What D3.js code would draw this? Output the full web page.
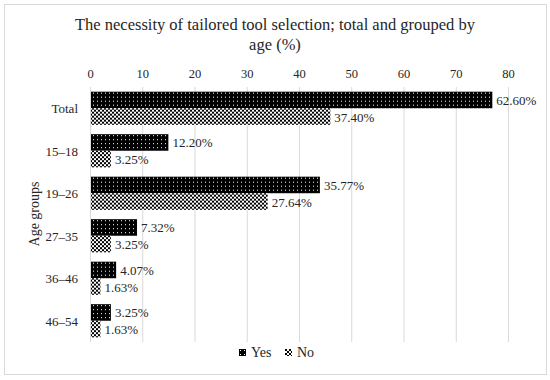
<!DOCTYPE html>
<html>
<head>
<meta charset="utf-8">
<script src="https://cdn.jsdelivr.net/npm/d3@7/dist/d3.min.js"></script>
<style>
    body { margin: 0; background: #fff; }
    svg text { font-family: "Liberation Serif", "DejaVu Serif", serif; fill: #262626; }
</style>
</head>
<body>
<svg id="chart" width="550" height="380"></svg>
<script>
const categories = ["Total", "15–18", "19–26", "27–35", "36–46", "46–54"];
const seriesNames = ["Yes", "No"];
const yesCounts = [77, 15, 44, 9, 5, 4];
const noCounts = [46, 4, 34, 4, 2, 2];
const yesLabels = ["62.60%", "12.20%", "35.77%", "7.32%", "4.07%", "3.25%"];
const noLabels = ["37.40%", "3.25%", "27.64%", "3.25%", "1.63%", "1.63%"];
const xTicks = [0, 10, 20, 30, 40, 50, 60, 70, 80];

const svg = d3.select("#chart");

// patterns for the two series
const defs = svg.append("defs");
const yesPat = defs.append("pattern")
    .attr("id", "pat-yes")
    .attr("patternUnits", "userSpaceOnUse")
    .attr("width", 4).attr("height", 4);
yesPat.append("rect").attr("width", 4).attr("height", 4).attr("fill", "#000");
yesPat.append("rect").attr("x", 1).attr("y", 1).attr("width", 1).attr("height", 1).attr("fill", "#fff");

const noPat = defs.append("pattern")
    .attr("id", "pat-no")
    .attr("patternUnits", "userSpaceOnUse")
    .attr("width", 4).attr("height", 4);
noPat.append("rect").attr("width", 4).attr("height", 4).attr("fill", "#fff");
noPat.append("rect").attr("width", 2).attr("height", 2).attr("fill", "#000");
noPat.append("rect").attr("x", 2).attr("y", 2).attr("width", 2).attr("height", 2).attr("fill", "#000");

const patFor = { Yes: "url(#pat-yes)", No: "url(#pat-no)" };

// outer frame
svg.append("rect")
    .attr("x", 4.5).attr("y", 4.5)
    .attr("width", 542).attr("height", 370)
    .attr("fill", "#fff")
    .attr("stroke", "#d9d9d9");

// title
svg.append("text")
    .attr("x", 275).attr("y", 30)
    .attr("text-anchor", "middle")
    .style("font-size", "16.5px")
    .text("The necessity of tailored tool selection; total and grouped by");
svg.append("text")
    .attr("x", 275).attr("y", 50)
    .attr("text-anchor", "middle")
    .style("font-size", "16.5px")
    .text("age (%)");

const plotLeft = 90, plotRight = 508, plotTop = 87, plotBottom = 342;

const xScale = d3.scaleLinear().domain([0, 80]).range([plotLeft, plotRight]);
const yScale = d3.scaleBand().domain(categories).range([plotTop, plotBottom])
    .paddingInner(0.22).paddingOuter(0.11);
const subScale = d3.scaleBand().domain(seriesNames).range([0, yScale.bandwidth()]);

// gridlines
svg.append("g")
    .selectAll("line")
    .data(xTicks)
    .join("line")
    .attr("x1", d => xScale(d) + 0.5)
    .attr("x2", d => xScale(d) + 0.5)
    .attr("y1", plotTop)
    .attr("y2", plotBottom)
    .attr("stroke", "#d9d9d9");

// top axis labels
const xAxis = svg.append("g")
    .attr("transform", `translate(0,${plotTop - 9})`)
    .call(d3.axisTop(xScale).tickValues(xTicks).tickSize(0).tickPadding(0))
    .attr("font-family", null)
    .attr("font-size", null);
xAxis.select(".domain").remove();
xAxis.selectAll("text")
    .attr("fill", null)
    .style("font-size", "12.5px");

// category labels
const yAxis = svg.append("g")
    .attr("transform", `translate(${plotLeft - 12},0)`)
    .call(d3.axisLeft(yScale).tickSize(0).tickPadding(0))
    .attr("font-family", null)
    .attr("font-size", null);
yAxis.select(".domain").remove();
yAxis.selectAll("text")
    .attr("fill", null)
    .attr("dy", "0.4em")
    .style("font-size", "13px");

// axis title
svg.append("text")
    .attr("transform", "translate(39,214) rotate(-90)")
    .attr("text-anchor", "middle")
    .style("font-size", "14px")
    .text("Age groups");

// bars
const rows = categories.map((c, i) => ({
    category: c,
    values: [
        { series: "Yes", value: yesCounts[i], label: yesLabels[i] },
        { series: "No", value: noCounts[i], label: noLabels[i] }
    ]
}));

const groups = svg.append("g")
    .selectAll("g")
    .data(rows)
    .join("g")
    .attr("transform", d => `translate(0,${yScale(d.category)})`);

groups.selectAll("rect")
    .data(d => d.values)
    .join("rect")
    .attr("x", xScale(0) + 1)
    .attr("y", d => subScale(d.series))
    .attr("width", d => xScale(d.value) - xScale(0) - 1)
    .attr("height", subScale.bandwidth())
    .attr("fill", d => patFor[d.series]);

groups.selectAll("text")
    .data(d => d.values)
    .join("text")
    .attr("x", d => xScale(d.value) + 4)
    .attr("y", d => subScale(d.series) + subScale.bandwidth() / 2 + 5)
    .style("font-size", "13px")
    .text(d => d.label);

// legend
const legend = svg.append("g")
    .selectAll("g")
    .data(seriesNames)
    .join("g")
    .attr("transform", (d, i) => `translate(${239 + i * 46},349)`);
legend.append("rect")
    .attr("width", 7).attr("height", 7)
    .attr("fill", d => patFor[d]);
legend.append("text")
    .attr("x", 12).attr("y", 8)
    .style("font-size", "14px")
    .text(d => d);
</script>
</body>
</html>
